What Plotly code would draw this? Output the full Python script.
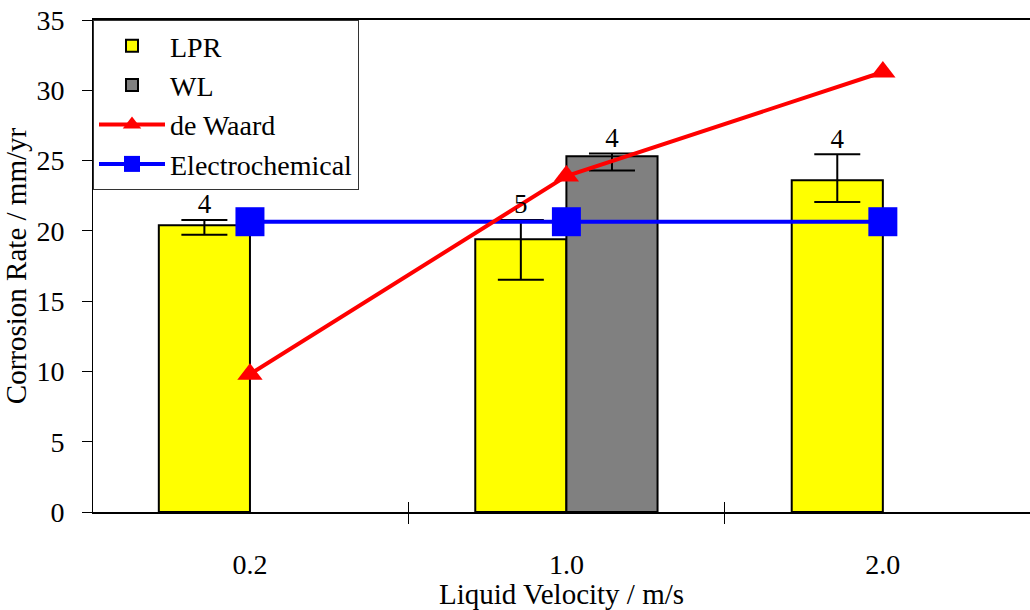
import plotly.graph_objects as go

# ---- data ----
velocity_labels = ["0.2", "1.0", "2.0"]
velocity_index = [0, 1, 2]

lpr = [20.4, 19.4, 23.6]
lpr_err_plus = [0.37, 1.37, 1.85]
lpr_err_minus = [0.67, 2.87, 1.54]
lpr_counts = ["4", "5", "4"]

wl = [None, 25.3, None]
wl_err_plus = [None, 0.2, None]
wl_err_minus = [None, 1.0, None]
wl_counts = [None, "4", None]

de_waard = [9.8, 23.9, 31.3]
electrochemical = [20.65, 20.65, 20.65]

y_ticks = [0, 5, 10, 15, 20, 25, 30, 35]
boundaries = [-0.5, 0.5, 1.5, 2.5]

# ---- style ----
BAR_W = 0.288
FONT = "Liberation Serif, Times New Roman, serif"

fig = go.Figure()

fig.add_trace(go.Bar(
    name="LPR", x=velocity_index, y=lpr, width=BAR_W, offset=-BAR_W,
    marker=dict(color="#FFFF00", line=dict(color="black", width=2)),
    error_y=dict(type="data", symmetric=False, array=lpr_err_plus,
                 arrayminus=lpr_err_minus, color="black", thickness=2, width=23),
    legendrank=1,
))
fig.add_trace(go.Bar(
    name="WL", x=velocity_index, y=wl, width=BAR_W, offset=0,
    marker=dict(color="#808080", line=dict(color="black", width=2)),
    error_y=dict(type="data", symmetric=False, array=wl_err_plus,
                 arrayminus=wl_err_minus, color="black", thickness=2, width=23),
    legendrank=2,
))
fig.add_trace(go.Scatter(
    name="Electrochemical", x=velocity_index, y=electrochemical, mode="lines+markers",
    line=dict(color="#0000FF", width=4),
    marker=dict(symbol="square", size=29, color="#0000FF"),
    legendrank=4,
))
fig.add_trace(go.Scatter(
    name="de Waard", x=velocity_index, y=de_waard, mode="lines+markers",
    line=dict(color="#FF0000", width=4),
    marker=dict(symbol="triangle-up", size=22, color="#FF0000"),
    legendrank=3,
))

# count labels above error bars
lab_x, lab_y, lab_t = [], [], []
for i, v in enumerate(velocity_index):
    if lpr[i] is not None:
        lab_x.append(v - BAR_W / 2)
        lab_y.append(lpr[i] + lpr_err_plus[i])
        lab_t.append(lpr_counts[i])
    if wl[i] is not None:
        lab_x.append(v + BAR_W / 2)
        lab_y.append(wl[i] + wl_err_plus[i])
        lab_t.append(wl_counts[i])
fig.add_trace(go.Scatter(
    x=lab_x, y=lab_y, text=lab_t, mode="text", textposition="top center",
    textfont=dict(family=FONT, size=27, color="black"),
    showlegend=False, hoverinfo="skip", xaxis="x2",
))

x_range = [-0.496, 2.465]

fig.update_layout(
    width=1030, height=610,
    margin=dict(l=93, r=0, t=20, b=98),
    paper_bgcolor="white", plot_bgcolor="white",
    font=dict(family=FONT, size=28, color="black"),
    barmode="overlay",
    showlegend=True,
    legend=dict(
        x=0, y=1, xanchor="left", yanchor="top",
        bgcolor="white", bordercolor="#333333", borderwidth=1,
        font=dict(family=FONT, size=28, color="black"),
        itemwidth=66, tracegroupgap=0,
    ),
    xaxis=dict(
        range=x_range, tickmode="array", tickvals=velocity_index, ticktext=velocity_labels,
        ticks="outside", ticklen=26, tickcolor="rgba(0,0,0,0)",
        minor=dict(tickmode="array", tickvals=boundaries, ticks="outside",
                   ticklen=10, tickcolor="black", tickwidth=1, showgrid=False),
        showline=True, linecolor="black", linewidth=2, mirror=True,
        showgrid=False, zeroline=False,
        tickfont=dict(family=FONT, size=28),
        title=dict(text="Liquid Velocity / m/s", font=dict(family=FONT, size=29), standoff=10),
    ),
    xaxis2=dict(
        range=x_range, overlaying="x", anchor="y", side="bottom",
        tickmode="array", tickvals=boundaries, ticks="inside", ticklen=10,
        tickcolor="black", tickwidth=1, showticklabels=False,
        showline=False, showgrid=False, zeroline=False,
    ),
    yaxis=dict(
        range=[0, 35], tickmode="array", tickvals=y_ticks,
        ticks="outside", ticklen=10, tickcolor="black", tickwidth=1,
        showline=True, linecolor="black", linewidth=1,
        showgrid=False, zeroline=False, ticklabelstandoff=12,
        tickfont=dict(family=FONT, size=28),
        title=dict(text="Corrosion Rate / mm/yr", font=dict(family=FONT, size=29), standoff=1),
    ),
)

fig.write_html("out.html")
